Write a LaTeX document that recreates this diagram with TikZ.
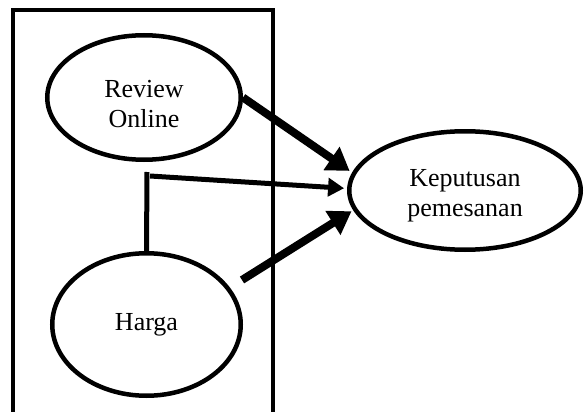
\documentclass[tikz,border=0pt]{standalone}
\usepackage{fontspec}
\setmainfont{Liberation Serif}
\usetikzlibrary{arrows.meta,shapes.geometric}

\begin{document}
\begin{tikzpicture}[x=1pt,y=-1pt,
  var/.style={ellipse,draw,line width=4.5pt,inner sep=0pt,align=center,
    font=\fontsize{26}{30}\selectfont},
  frame/.style={draw,line width=4pt},
  bigarrow/.style={line width=8pt,-{Triangle[length=22pt,width=27pt]}},
  thinarrow/.style={line width=5pt,-{Triangle[length=16pt,width=18pt]}},
  link/.style={line width=5pt}]
  \useasboundingbox (0,0) rectangle (584,412);

  % grouping frame around the two predictors
  \draw[frame] (13,10) rectangle (273,414);

  % variables
  \node[var,minimum width=193.5pt,minimum height=124.5pt] (rev) at (144,97.5)
    {\rule{0pt}{30pt}Review\\Online};
  \node[var,minimum width=188.5pt,minimum height=142.5pt] (harga) at (146.5,324.5)
    {Harga};
  \node[var,minimum width=231.5pt,minimum height=118.5pt] (kep) at (465,190.5)
    {\rule{0pt}{28pt}Keputusan\\pemesanan};

  % moderation path
  \coordinate (mtop) at (147,172);
  \coordinate (mstart) at (150,176);
  \coordinate (hstart) at (242,280);
  \draw[link] (harga.north) -- (mtop);

  % effects on the decision
  \draw[bigarrow,shorten >=3pt] (rev.east) -- (kep.171);
  \draw[thinarrow,shorten >=3pt] (mstart) -- (kep.179);
  \draw[bigarrow,shorten >=2pt] (hstart) -- (kep.190);
\end{tikzpicture}
\end{document}
